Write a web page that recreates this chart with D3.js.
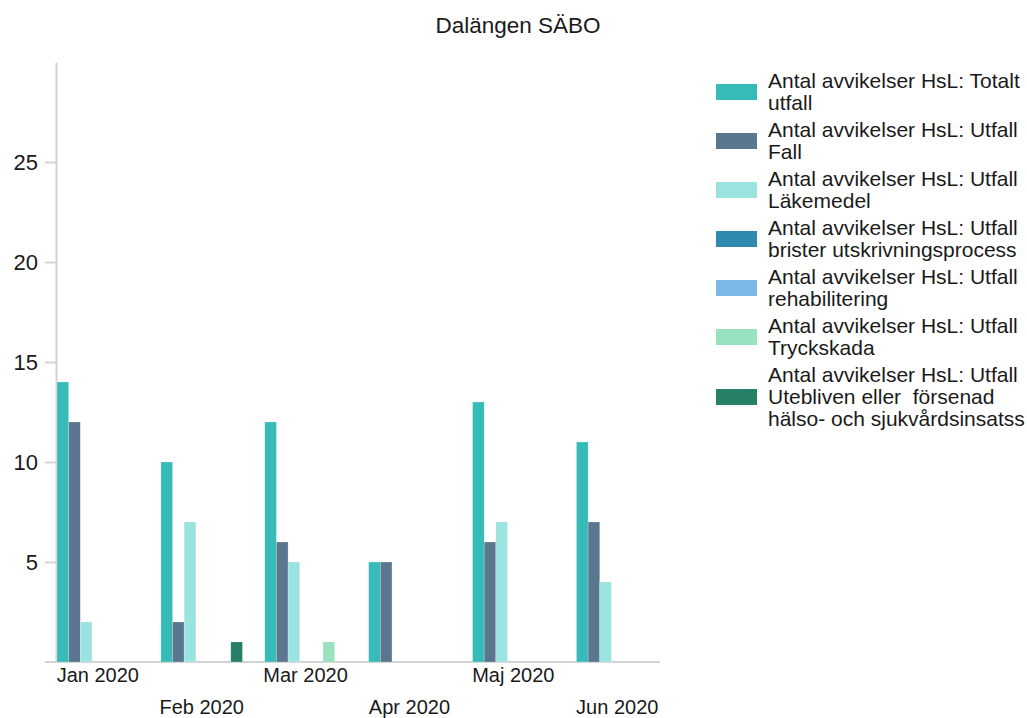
<!DOCTYPE html>
<html>
<head>
<meta charset="utf-8">
<script src="https://cdn.jsdelivr.net/npm/d3@7"></script>
<style>
  body { margin: 0; background: #fff; }
  svg { display: block; font-family: "Liberation Sans", Arial, sans-serif; }
  .axis text { fill: #1a1a1a; }
  .axis line, .axis path { stroke: #d4d4d4; stroke-width: 2; }
</style>
</head>
<body>
<svg id="chart" width="1027" height="718"></svg>
<script>
// Chart data
const title = 'Dalängen SÄBO';
const months = ['Jan 2020', 'Feb 2020', 'Mar 2020', 'Apr 2020', 'Maj 2020', 'Jun 2020'];
const seriesNames = [
    'Antal avvikelser HsL: Totalt\nutfall',
    'Antal avvikelser HsL: Utfall\nFall',
    'Antal avvikelser HsL: Utfall\nLäkemedel',
    'Antal avvikelser HsL: Utfall\nbrister utskrivningsprocess',
    'Antal avvikelser HsL: Utfall\nrehabilitering',
    'Antal avvikelser HsL: Utfall\nTryckskada',
    'Antal avvikelser HsL: Utfall\nUtebliven eller  försenad\nhälso- och sjukvårdsinsatss'
];
const seriesColors = ['#36bbb9', '#5b778f', '#9ae3de', '#2f8aae', '#7cb8e8', '#99e2bf', '#268067'];
const totalt = [14, 10, 12, 5, 13, 11];
const fall = [12, 2, 6, 5, 6, 7];
const lakemedel = [2, 7, 5, 0, 7, 4];
const utskrivning = [0, 0, 0, 0, 0, 0];
const rehabilitering = [0, 0, 0, 0, 0, 0];
const tryckskada = [0, 0, 1, 0, 0, 0];
const utebliven = [0, 1, 0, 0, 0, 0];
const yTicks = [5, 10, 15, 20, 25];

const seriesValues = [totalt, fall, lakemedel, utskrivning, rehabilitering, tryckskada, utebliven];

const svg = d3.select('#chart');

// Scales
const x0 = d3.scaleBand()
    .domain(months)
    .range([57, 658])
    .paddingInner(0.215)
    .paddingOuter(0);

const x1 = d3.scaleBand()
    .domain(d3.range(seriesNames.length))
    .range([0, x0.bandwidth()]);

const y = d3.scaleLinear()
    .domain([0, 30])
    .range([662, 62]);

// Title
svg.append('text')
    .attr('x', 518)
    .attr('y', 33)
    .attr('text-anchor', 'middle')
    .attr('fill', '#1a1a1a')
    .style('font-size', '22.5px')
    .text(title);

// Y axis
const yAxis = svg.append('g')
    .attr('class', 'axis')
    .attr('transform', 'translate(56,0)')
    .call(d3.axisLeft(y).tickValues(yTicks).tickSize(11).tickSizeOuter(0).tickPadding(7));
yAxis.selectAll('text').attr('dy', '0.36em').style('font-size', '22px');

// X axis baseline + labels
const xAxis = svg.append('g')
    .attr('class', 'axis')
    .attr('transform', `translate(0,${y(0)})`)
    .call(d3.axisBottom(x0).tickSize(0).tickPadding(0));
xAxis.select('.domain').remove();
xAxis.append('line')
    .attr('x1', 45)
    .attr('x2', x0.range()[1] + 2);
xAxis.selectAll('.tick text')
    .style('font-size', '20px')
    .attr('y', (d, i) => i % 2 === 0 ? 20 : 52)
    .attr('dy', 0);

// Bars
const groups = svg.append('g')
    .selectAll('g')
    .data(months)
    .join('g')
    .attr('transform', d => `translate(${x0(d)},0)`);

groups.selectAll('rect')
    .data((m, mi) => seriesValues.map((vals, si) => ({ si, v: vals[mi] })).filter(d => d.v > 0))
    .join('rect')
    .attr('x', d => x1(d.si))
    .attr('width', x1.bandwidth())
    .attr('y', d => y(d.v))
    .attr('height', d => y(0) - y(d.v))
    .attr('fill', d => seriesColors[d.si])
    .attr('stroke', '#ffffff')
    .attr('stroke-opacity', 0.35)
    .attr('stroke-width', 0.6);

// Legend
const legend = svg.append('g').attr('transform', 'translate(716,0)');
const lineH = 22;
let legendY = 70;
seriesNames.forEach((name, i) => {
    const lines = name.split('\n');
    const blockH = lines.length * lineH;
    const item = legend.append('g');
    item.append('rect')
        .attr('x', 0)
        .attr('y', legendY + blockH / 2 - 8)
        .attr('width', 41)
        .attr('height', 16)
        .attr('fill', seriesColors[i]);
    const t = item.append('text')
        .attr('x', 52)
        .attr('fill', '#1a1a1a')
        .style('font-size', '21px')
        .style('white-space', 'pre');
    lines.forEach((ln, j) => {
        t.append('tspan')
            .attr('x', 52)
            .attr('y', legendY + 18 + j * lineH)
            .text(ln);
    });
    legendY += blockH + 5;
});
</script>
</body>
</html>
